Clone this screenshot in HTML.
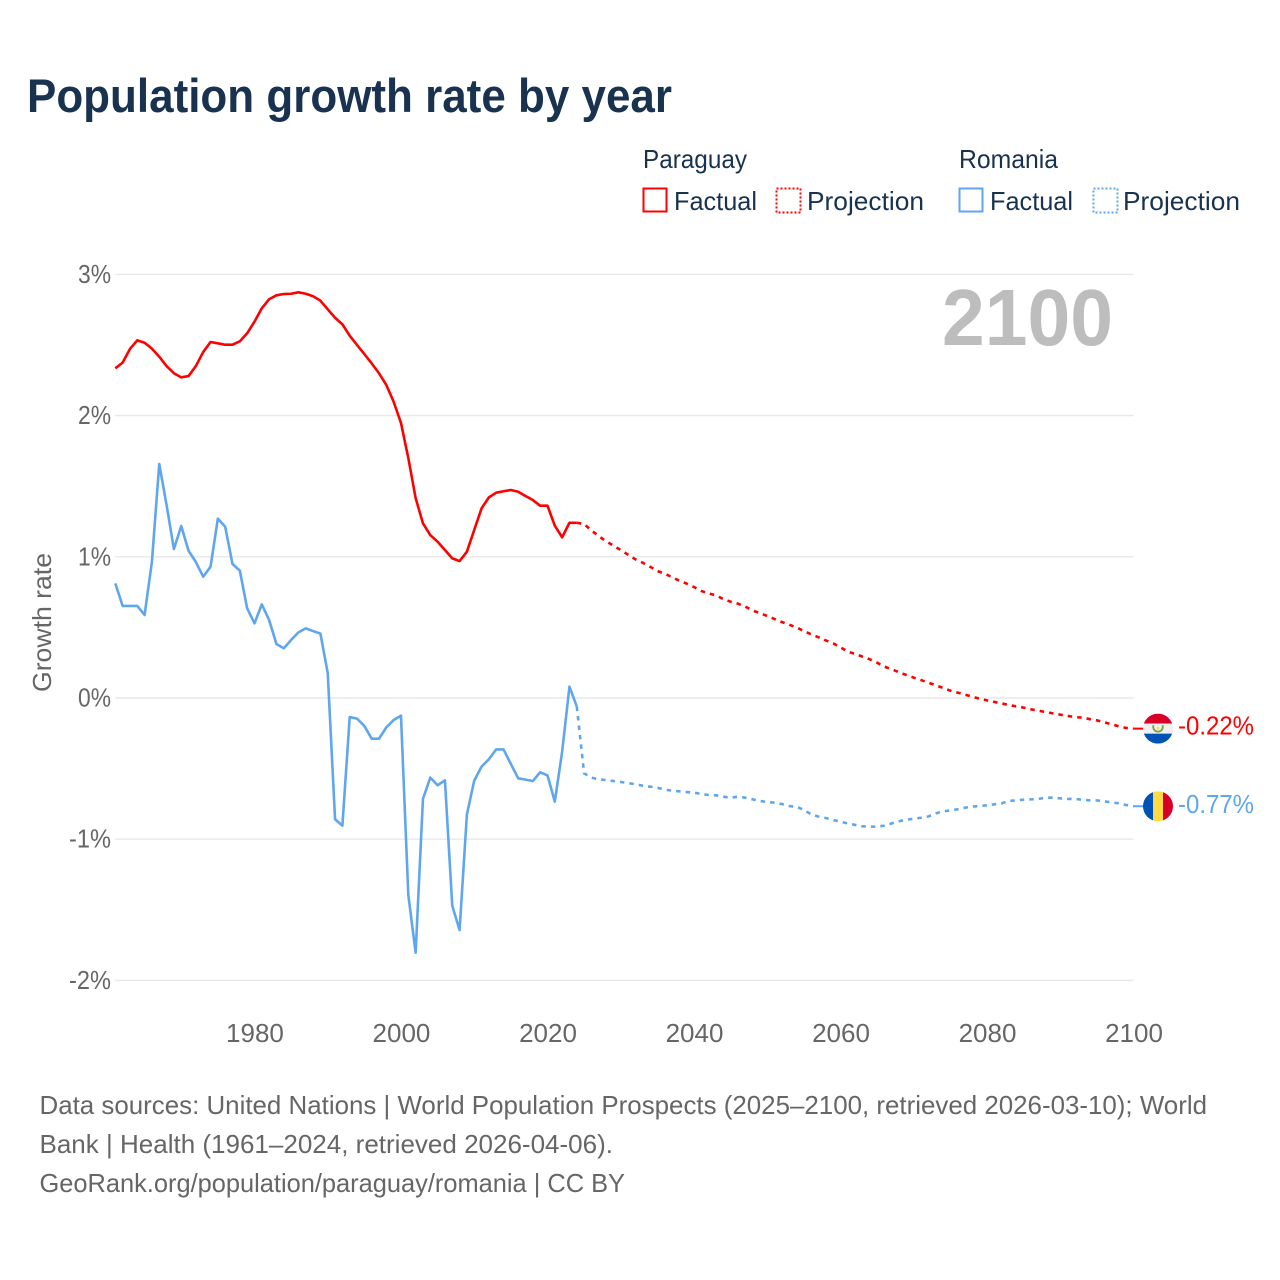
<!DOCTYPE html>
<html lang="en">
<head>
<meta charset="utf-8">
<title>Population growth rate by year</title>
<style>
  html, body { margin: 0; padding: 0; background: #fff; }
  svg { display: block; font-family: "Liberation Sans", sans-serif; }
</style>
</head>
<body>
<svg id="chart" xmlns="http://www.w3.org/2000/svg" width="1280" height="1280" viewBox="0 0 1280 1280">
  <rect width="1280" height="1280" fill="#ffffff"/>
  <text x="27" y="112" font-size="47" font-weight="700" fill="#18324f" textLength="645" lengthAdjust="spacingAndGlyphs">Population growth rate by year</text>

  <g font-size="26" fill="#18324f">
    <text x="643" y="168" textLength="104" lengthAdjust="spacingAndGlyphs">Paraguay</text>
    <text x="959" y="168" textLength="99" lengthAdjust="spacingAndGlyphs">Romania</text>
    <g>
      <rect x="643.5" y="188.5" width="23" height="23" fill="none" stroke="#ff0000" stroke-width="2"/>
      <text x="674" y="210" textLength="83" lengthAdjust="spacingAndGlyphs">Factual</text>
    </g>
    <g>
      <rect x="776.5" y="188.5" width="24" height="24" fill="none" stroke="#ff0000" stroke-width="2" stroke-dasharray="2 2"/>
      <text x="807" y="210" textLength="117" lengthAdjust="spacingAndGlyphs">Projection</text>
    </g>
    <g>
      <rect x="959.5" y="188.5" width="23" height="23" fill="none" stroke="#5fa6ee" stroke-width="2"/>
      <text x="990" y="210" textLength="83" lengthAdjust="spacingAndGlyphs">Factual</text>
    </g>
    <g>
      <rect x="1093.5" y="188.5" width="24" height="24" fill="none" stroke="#5fa6ee" stroke-width="2" stroke-dasharray="2 2"/>
      <text x="1123" y="210" textLength="117" lengthAdjust="spacingAndGlyphs">Projection</text>
    </g>
  </g>

  <g id="grid"></g>
  <g id="yticks" font-size="26" fill="#666666" text-anchor="end"></g>
  <g id="xticks" font-size="26" fill="#666666" text-anchor="middle"></g>
  <text transform="translate(51 692) rotate(-90)" font-size="26" fill="#666666" textLength="139" lengthAdjust="spacingAndGlyphs">Growth rate</text>
  <text x="942" y="345" font-size="80" font-weight="700" fill="#bdbdbd" textLength="171" lengthAdjust="spacingAndGlyphs">2100</text>

  <g id="series"></g>

  <g id="endmarks"></g>

  <g font-size="26" fill="#666666">
    <text x="39.5" y="1114" textLength="1167.5" lengthAdjust="spacingAndGlyphs">Data sources: United Nations | World Population Prospects (2025–2100, retrieved 2026-03-10); World</text>
    <text x="39.5" y="1153" textLength="573.5" lengthAdjust="spacingAndGlyphs">Bank | Health (1961–2024, retrieved 2026-04-06).</text>
    <text x="39.5" y="1192" textLength="585.5" lengthAdjust="spacingAndGlyphs">GeoRank.org/population/paraguay/romania | CC BY</text>
  </g>
</svg>

<script>
// Data (annual growth rate, percent)
const factualStartYear = 1961;
const projectionStartYear = 2025;
const paraguayFactual = [2.335,2.375,2.472,2.533,2.516,2.474,2.417,2.351,2.300,2.271,2.280,2.351,2.450,2.521,2.512,2.502,2.502,2.526,2.583,2.665,2.760,2.824,2.852,2.861,2.863,2.873,2.863,2.845,2.814,2.753,2.693,2.647,2.566,2.500,2.436,2.370,2.300,2.217,2.098,1.948,1.700,1.416,1.237,1.154,1.107,1.048,0.989,0.970,1.036,1.190,1.343,1.421,1.454,1.464,1.473,1.461,1.431,1.402,1.362,1.362,1.220,1.138,1.241,1.241];
const paraguayProjection = [1.232,1.187,1.147,1.110,1.079,1.048,1.015,0.982,0.958,0.930,0.899,0.881,0.855,0.831,0.810,0.786,0.758,0.741,0.727,0.701,0.682,0.668,0.647,0.621,0.600,0.581,0.559,0.538,0.519,0.500,0.474,0.451,0.430,0.408,0.387,0.359,0.328,0.312,0.293,0.274,0.250,0.222,0.203,0.182,0.163,0.144,0.127,0.109,0.090,0.071,0.052,0.038,0.024,0.009,-0.005,-0.017,-0.028,-0.038,-0.050,-0.059,-0.068,-0.080,-0.090,-0.099,-0.109,-0.118,-0.127,-0.135,-0.139,-0.149,-0.158,-0.172,-0.186,-0.201,-0.212,-0.217];
const romaniaFactual = [0.812,0.652,0.652,0.652,0.588,0.966,1.657,1.367,1.055,1.218,1.043,0.963,0.859,0.930,1.270,1.213,0.949,0.902,0.635,0.529,0.663,0.552,0.382,0.352,0.411,0.465,0.493,0.474,0.456,0.177,-0.859,-0.904,-0.135,-0.146,-0.198,-0.288,-0.288,-0.208,-0.156,-0.125,-1.395,-1.804,-0.715,-0.564,-0.618,-0.583,-1.471,-1.643,-0.824,-0.585,-0.486,-0.434,-0.364,-0.364,-0.467,-0.569,-0.578,-0.588,-0.526,-0.548,-0.734,-0.380,0.080,-0.061];
const romaniaProjection = [-0.534,-0.564,-0.576,-0.581,-0.588,-0.595,-0.602,-0.611,-0.621,-0.628,-0.635,-0.649,-0.656,-0.661,-0.666,-0.670,-0.680,-0.687,-0.689,-0.699,-0.706,-0.699,-0.706,-0.718,-0.729,-0.737,-0.741,-0.751,-0.765,-0.770,-0.793,-0.824,-0.840,-0.850,-0.864,-0.876,-0.888,-0.899,-0.909,-0.911,-0.911,-0.904,-0.888,-0.873,-0.862,-0.855,-0.848,-0.839,-0.817,-0.803,-0.796,-0.788,-0.777,-0.769,-0.765,-0.760,-0.753,-0.746,-0.729,-0.725,-0.720,-0.718,-0.715,-0.706,-0.706,-0.711,-0.715,-0.715,-0.720,-0.725,-0.725,-0.732,-0.739,-0.746,-0.758,-0.767];
const yTickValues = [3, 2, 1, 0, -1, -2];
const xTickYears = [1980, 2000, 2020, 2040, 2060, 2080, 2100];
const paraguayEndLabel = "-0.22%";
const romaniaEndLabel = "-0.77%";

// Axis functions
const PLOT_LEFT_YEAR = 1961, PLOT_RIGHT_YEAR = 2100;
const PLOT_LEFT_PX = 115.3, PLOT_RIGHT_PX = 1133.5;
const ZERO_PX = 698, PX_PER_PERCENT = 141.2;
const xScale = year => PLOT_LEFT_PX + (year - PLOT_LEFT_YEAR) * (PLOT_RIGHT_PX - PLOT_LEFT_PX) / (PLOT_RIGHT_YEAR - PLOT_LEFT_YEAR);
const yScale = value => ZERO_PX - value * PX_PER_PERCENT;

const NS = "http://www.w3.org/2000/svg";
const mk = (tag, parent) => { const e = document.createElementNS(NS, tag); parent.appendChild(e); return e; };
const setAll = (e, attrs) => { for (const k in attrs) e.setAttribute(k, attrs[k]); };
const toPath = (startYear, values) => values.map((v, i) => (i ? "L" : "M") + xScale(startYear + i).toFixed(2) + " " + yScale(v).toFixed(2)).join(" ");

const grid = document.getElementById("grid");
const yticks = document.getElementById("yticks");
const xticks = document.getElementById("xticks");
const series = document.getElementById("series");
const endmarks = document.getElementById("endmarks");

yTickValues.forEach(v => {
  const line = mk("line", grid);
  
  
  setAll(line, { x1: PLOT_LEFT_PX, x2: PLOT_RIGHT_PX, y1: yScale(v), y2: yScale(v), stroke: "#e8e8e8", "stroke-width": 1.4 });
  const label = mk("text", yticks);
  
  
  setAll(label, { x: 111, y: yScale(v) + 8.5, textLength: v < 0 ? 42 : 33, lengthAdjust: "spacingAndGlyphs" });
  label.textContent = v + "%";
});

xTickYears.forEach(year => {
  const label = mk("text", xticks);
  
  
  setAll(label, { x: xScale(year) + 0.5, y: 1042 });
  label.textContent = year;
});

const RED = "#ff0000", BLUE = "#5fa6ee";
const LINE_STYLE = { fill: "none", "stroke-width": 2.6, "stroke-linejoin": "round" };
const DASH = "4.5 5";

const paraguayFactualLine = mk("path", series);


setAll(paraguayFactualLine, LINE_STYLE);
setAll(paraguayFactualLine, { stroke: RED, d: toPath(factualStartYear, paraguayFactual) });

const romaniaFactualLine = mk("path", series);


setAll(romaniaFactualLine, LINE_STYLE);
setAll(romaniaFactualLine, { stroke: BLUE, d: toPath(factualStartYear, romaniaFactual) });

const paraguayProjectionLine = mk("path", series);


setAll(paraguayProjectionLine, LINE_STYLE);
setAll(paraguayProjectionLine, { stroke: RED, "stroke-dasharray": DASH, d: toPath(projectionStartYear - 1, [paraguayFactual[paraguayFactual.length - 1]].concat(paraguayProjection)) });

const romaniaProjectionLine = mk("path", series);


setAll(romaniaProjectionLine, LINE_STYLE);
setAll(romaniaProjectionLine, { stroke: BLUE, "stroke-dasharray": DASH, d: toPath(projectionStartYear - 1, [romaniaFactual[romaniaFactual.length - 1]].concat(romaniaProjection)) });

// End markers: connector, flag and value label follow the last projected value
const FLAG_X = 1158, FLAG_R = 15;
const pyY = yScale(paraguayProjection[paraguayProjection.length - 1]);
const roY = yScale(romaniaProjection[romaniaProjection.length - 1]);

const pyConnector = mk("line", endmarks);


setAll(pyConnector, { x1: PLOT_RIGHT_PX, x2: FLAG_X, y1: pyY, y2: pyY, stroke: RED, "stroke-width": 2 });

const roConnector = mk("line", endmarks);


setAll(roConnector, { x1: PLOT_RIGHT_PX, x2: FLAG_X, y1: roY, y2: roY, stroke: BLUE, "stroke-width": 2 });

const clipDefs = mk("defs", endmarks);
const pyClip = mk("clipPath", clipDefs);
pyClip.setAttribute("id", "py-clip");
setAll(mk("circle", pyClip), { cx: FLAG_X, cy: pyY, r: FLAG_R });
const roClip = mk("clipPath", clipDefs);
roClip.setAttribute("id", "ro-clip");
setAll(mk("circle", roClip), { cx: FLAG_X, cy: roY, r: FLAG_R });

const pyFlag = mk("g", endmarks);


pyFlag.setAttribute("clip-path", "url(#py-clip)");
setAll(mk("rect", pyFlag), { x: FLAG_X - FLAG_R, y: pyY - FLAG_R, width: 2 * FLAG_R, height: 10, fill: "#d80027" });
setAll(mk("rect", pyFlag), { x: FLAG_X - FLAG_R, y: pyY - FLAG_R + 10, width: 2 * FLAG_R, height: 10, fill: "#f0f0f0" });
setAll(mk("rect", pyFlag), { x: FLAG_X - FLAG_R, y: pyY - FLAG_R + 20, width: 2 * FLAG_R, height: 10, fill: "#0052b4" });
setAll(mk("path", pyFlag), { d: "M" + (FLAG_X - 4.5) + " " + (pyY - 3.5) + " a4.8 4.8 0 1 0 9 0", fill: "none", stroke: "#6da544", "stroke-width": 1.8 });
setAll(mk("circle", pyFlag), { cx: FLAG_X, cy: pyY - 0.5, r: 1.4, fill: "#ffda44" });

const roFlag = mk("g", endmarks);


roFlag.setAttribute("clip-path", "url(#ro-clip)");
setAll(mk("rect", roFlag), { x: FLAG_X - FLAG_R, y: roY - FLAG_R, width: 10, height: 2 * FLAG_R, fill: "#0052b4" });
setAll(mk("rect", roFlag), { x: FLAG_X - FLAG_R + 10, y: roY - FLAG_R, width: 10, height: 2 * FLAG_R, fill: "#ffda44" });
setAll(mk("rect", roFlag), { x: FLAG_X - FLAG_R + 20, y: roY - FLAG_R, width: 10, height: 2 * FLAG_R, fill: "#d80027" });

const pyLabel = mk("text", endmarks);


setAll(pyLabel, { x: 1178, y: pyY + 6, "font-size": 26, fill: RED, textLength: 76, lengthAdjust: "spacingAndGlyphs" });
pyLabel.textContent = paraguayEndLabel;

const roLabel = mk("text", endmarks);


setAll(roLabel, { x: 1178, y: roY + 6.5, "font-size": 26, fill: BLUE, textLength: 76, lengthAdjust: "spacingAndGlyphs" });
roLabel.textContent = romaniaEndLabel;
</script>
</body>
</html>
